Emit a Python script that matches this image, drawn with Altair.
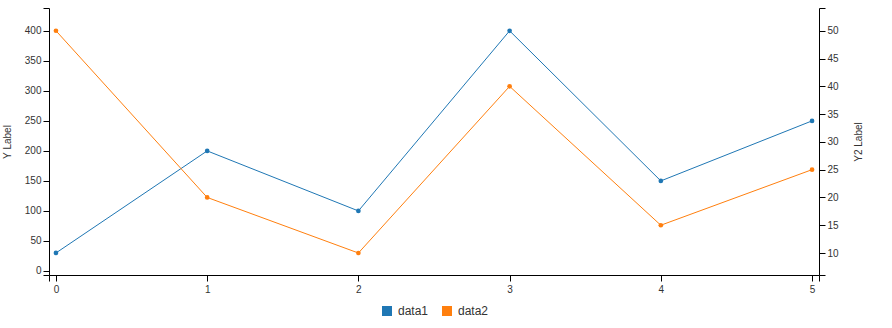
import altair as alt
import pandas as pd

x_vals = [0, 1, 2, 3, 4, 5]
data1 = [30, 200, 100, 400, 150, 250]
data2 = [50, 20, 10, 40, 15, 25]
series = ["data1", "data2"]
colors = ["#1f77b4", "#ff7f0e"]

y_ticks = [0, 50, 100, 150, 200, 250, 300, 350, 400]
y2_ticks = [10, 15, 20, 25, 30, 35, 40, 45, 50]

xdom = [-0.046, 5.046]
ydom = [-6.7, 438]
y2dom = [6.04, 54.1]

df1 = pd.DataFrame({"x": x_vals, "v": data1, "s": "data1"})
df2 = pd.DataFrame({"x": x_vals, "v": data2, "s": "data2"})

font = "Liberation Sans"
axis_common = dict(domainColor="#000", tickColor="#000", labelColor="#333",
                   labelFont=font, labelFontSize=10, titleFont=font,
                   titleFontSize=10, titleFontWeight="normal", titleColor="#333",
                   grid=False, tickSize=6, domainWidth=1, tickWidth=1)

color = alt.Color("s:N", scale=alt.Scale(domain=series, range=colors),
                  legend=alt.Legend(title=None, orient="none", direction="horizontal",
                                    legendX=332, legendY=297, symbolType="square",
                                    symbolSize=100, symbolStrokeWidth=0, symbolOpacity=1,
                                    labelFont=font, labelFontSize=12, labelColor="#333",
                                    labelOffset=5, columnPadding=12))

xenc = alt.X("x:Q", scale=alt.Scale(domain=xdom, nice=False, zero=False),
             axis=alt.Axis(values=[xdom[0]] + x_vals + [xdom[1]],
                           labelExpr="datum.value % 1 == 0 ? format(datum.value, 'd') : ''",
                           title=None, labelPadding=3, **axis_common))

y1 = alt.Y("v:Q", scale=alt.Scale(domain=ydom, nice=False, zero=False),
           axis=alt.Axis(values=[ydom[0]] + y_ticks + [ydom[1]], orient="left",
                         labelExpr="datum.value % 50 == 0 ? datum.label : ''",
                         title="Y Label", titlePadding=12, **axis_common))
y2 = alt.Y("v:Q", scale=alt.Scale(domain=y2dom, nice=False, zero=False),
           axis=alt.Axis(values=[y2dom[0]] + y2_ticks + [y2dom[1]], orient="right",
                         labelExpr="datum.value % 5 == 0 ? datum.label : ''",
                         title="Y2 Label", titleAngle=-90, titlePadding=25, **axis_common))

base1 = alt.Chart(df1).encode(x=xenc, y=y1, color=color)
base2 = alt.Chart(df2).encode(x=xenc, y=y2, color=color)

l1 = alt.layer(base1.mark_line(strokeWidth=1), base1.mark_point(filled=True, size=22, opacity=1))
l2 = alt.layer(base2.mark_line(strokeWidth=1), base2.mark_point(filled=True, size=22, opacity=1))

chart = alt.layer(l1, l2).resolve_scale(y="independent").properties(
    width=770, height=267,
    autosize=alt.AutoSizeParams(type="none"),
    padding={"left": 49, "top": 8, "right": 73, "bottom": 53},
    background="white",
).configure_view(stroke=None)

chart.save("out.html", embed_options={"renderer": "svg", "actions": False})
